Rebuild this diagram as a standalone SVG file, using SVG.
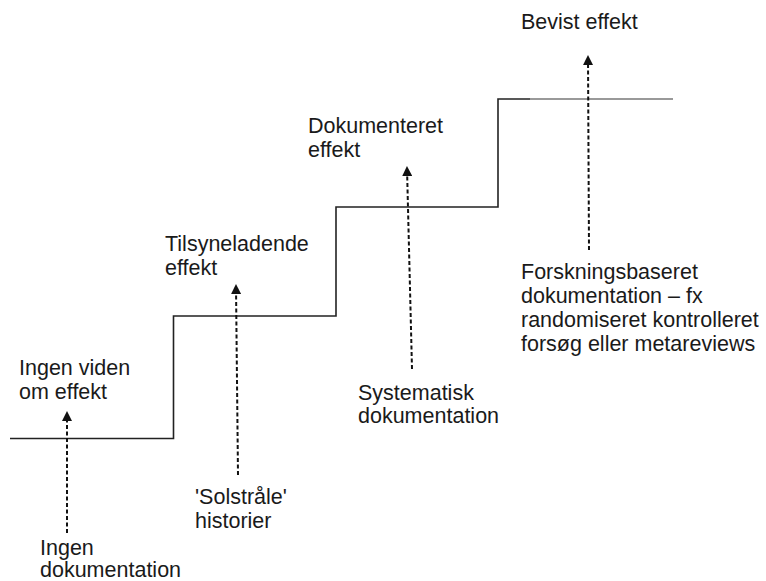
<svg xmlns="http://www.w3.org/2000/svg" width="766" height="581" viewBox="0 0 766 581">
<defs>
<style>
text{font-family:"Liberation Sans",Arial,sans-serif;font-size:21.5px;fill:#1a1a1a}
.stair{fill:none;stroke:#222;stroke-width:1.6}
.arr{fill:none;stroke:#111;stroke-width:2;stroke-dasharray:4 2.5;marker-end:url(#ah)}
</style>
<marker id="ah" viewBox="0 0 10 10" refX="8" refY="5" markerWidth="5" markerHeight="5" orient="auto" markerUnits="strokeWidth">
<path d="M0,0 L10,5 L0,10 z" fill="#111"/>
</marker>
</defs>
<rect width="766" height="581" fill="#fff"/>
<g id="stairs">
<path class="stair" d="M10,438.5 H173.5 V316 H336 V207 H498 V99 H530"/>
<path d="M530,99 H673" fill="none" stroke="#777" stroke-width="1.6"/>
</g>
<g id="connectors">
<path class="arr" d="M67,533 L67,413"/>
<path class="arr" d="M238,475 L236,286"/>
<path class="arr" d="M412,369 L407,168"/>
<path class="arr" d="M589,250 L588,57"/>
</g>
<g id="level1"><text x="19" y="375">Ingen viden</text><text x="19" y="399">om effekt</text></g>
<g id="level2"><text x="165" y="251">Tilsyneladende</text><text x="165" y="275">effekt</text></g>
<g id="level3"><text x="308" y="133">Dokumenteret</text><text x="308" y="157">effekt</text></g>
<g id="level4"><text x="521" y="29">Bevist effekt</text></g>
<g id="source1"><text x="40" y="555">Ingen</text><text x="40" y="577">dokumentation</text></g>
<g id="source2"><text x="195" y="504">'Solstråle'</text><text x="195" y="528">historier</text></g>
<g id="source3"><text x="358" y="400">Systematisk</text><text x="358" y="423">dokumentation</text></g>
<g id="source4"><text x="521" y="279">Forskningsbaseret</text><text x="521" y="303">dokumentation – fx</text><text x="521" y="327">randomiseret kontrolleret</text><text x="521" y="351">forsøg eller metareviews</text></g>
</svg>
